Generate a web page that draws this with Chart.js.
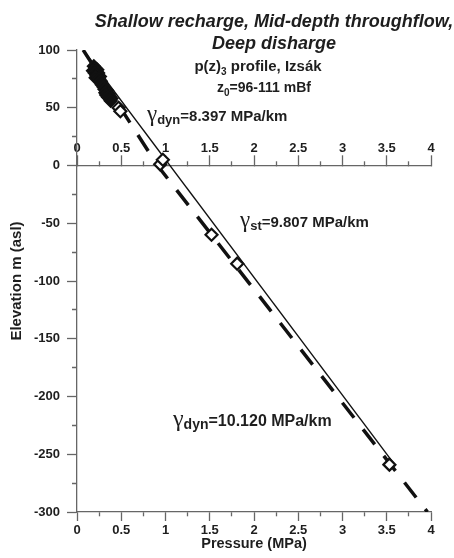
<!DOCTYPE html>
<html>
<head>
<meta charset="utf-8">
<script src="https://cdn.jsdelivr.net/npm/chart.js@4.4.1/dist/chart.umd.min.js"></script>
<style>
  html, body { margin: 0; padding: 0; background: #fff; }
  #wrap { width: 454px; height: 558px; }
</style>
</head>
<body>
<div id="wrap"><canvas id="chart"></canvas></div>
<script>
// hydrostatic line, gamma_st = 9.807 MPa/km
const staticPressure = [0.07, 3.6];
const staticElevation = [100, -260];

// dynamic gradient line, bends at z = 0 (8.397 -> 10.120 MPa/km)
const dynPressure = [0.07, 0.91, 3.96];
const dynElevation = [100, 0, -300];

// dense cluster of shallow measurements (reads as a black blob)
const clusterPressure = [0.19, 0.21, 0.18, 0.23, 0.20, 0.24, 0.22, 0.26, 0.21, 0.25, 0.27,
                         0.28, 0.30, 0.31, 0.34, 0.32, 0.36, 0.33, 0.37, 0.35, 0.39, 0.38];
const clusterElevation = [86, 84, 82, 83, 80, 80, 78, 77, 76, 75, 73,
                          70, 68, 66, 65, 63, 62, 61, 60, 59, 58, 56];

// single deeper measurements
const obsPressure = [0.47, 0.49, 0.94, 0.97, 1.52, 1.81, 3.53];
const obsElevation = [50, 47, 1, 5, -60, -85, -259];

// labelled ticks (minor ticks sit half way between)
const pressureLabels = [0, 0.5, 1, 1.5, 2, 2.5, 3, 3.5, 4];
const elevationLabels = [100, 50, 0, -50, -100, -150, -200, -250, -300];

const titleLines = ['Shallow recharge, Mid-depth throughflow,', 'Deep disharge'];

const SANS = '"Liberation Sans", Arial, sans-serif';
const SERIF = '"Liberation Serif", "Times New Roman", serif';
const AXIS = '#666';
const INK = '#1e1e1e';

const toPoints = (xs, ys) => xs.map((x, i) => ({ x, y: ys[i] }));
const isLabel = (list, v) => list.some(l => Math.abs(l - v) < 1e-9);

// draws a row of text pieces with their own fonts, optional baseline shift
function drawRuns(ctx, runs, x, y, align) {
  let total = 0;
  runs.forEach(r => { ctx.font = r.font; total += ctx.measureText(r.text).width; });
  let cx = align === 'center' ? x - total / 2 : x;
  ctx.textAlign = 'left';
  runs.forEach(r => {
    ctx.font = r.font;
    ctx.fillText(r.text, cx, y + (r.dy || 0));
    cx += ctx.measureText(r.text).width;
  });
}

function gammaRuns(sub, rest, size) {
  return [
    { text: 'γ', font: (size + 8) + 'px ' + SERIF },
    { text: sub, font: 'bold ' + (size - 2) + 'px ' + SANS, dy: 3 },
    { text: rest, font: 'bold ' + size + 'px ' + SANS }
  ];
}

const textPlugin = {
  id: 'profileText',
  afterDraw(chart) {
    const ctx = chart.ctx;
    ctx.save();
    ctx.fillStyle = INK;
    ctx.textBaseline = 'alphabetic';

    ctx.font = 'italic bold 18px ' + SANS;
    ctx.textAlign = 'center';
    ctx.fillText(titleLines[0], 274, 27);
    ctx.fillText(titleLines[1], 274, 49);

    drawRuns(ctx, [
      { text: 'p(z)', font: 'bold 15px ' + SANS },
      { text: '3', font: 'bold 10px ' + SANS, dy: 4 },
      { text: ' profile, Izsák', font: 'bold 15px ' + SANS }
    ], 258, 71, 'center');

    drawRuns(ctx, [
      { text: 'z', font: 'bold 14px ' + SANS },
      { text: '0', font: 'bold 10px ' + SANS, dy: 4 },
      { text: '=96-111 mBf', font: 'bold 14px ' + SANS }
    ], 264, 92, 'center');

    drawRuns(ctx, gammaRuns('dyn', '=8.397 MPa/km', 15), 147, 121, 'left');
    drawRuns(ctx, gammaRuns('st', '=9.807 MPa/km', 15), 240, 227, 'left');
    drawRuns(ctx, gammaRuns('dyn', '=10.120 MPa/km', 16), 173, 426, 'left');
    ctx.restore();
  }
};

const tickFont = { family: SANS, size: 13, weight: 'bold' };

new Chart(document.getElementById('chart'), {
  type: 'scatter',
  data: {
    datasets: [
      {
        data: toPoints(obsPressure, obsElevation),
        pointStyle: 'rectRot',
        pointRadius: 6,
        pointBorderWidth: 2.2,
        pointBorderColor: '#111',
        pointBackgroundColor: '#fff'
      },
      {
        data: toPoints(clusterPressure, clusterElevation),
        pointStyle: 'rectRot',
        pointRadius: 6,
        pointBorderWidth: 2,
        pointBorderColor: '#111',
        pointBackgroundColor: '#111'
      },
      {
        data: toPoints(dynPressure, dynElevation),
        showLine: true,
        borderColor: '#111',
        borderWidth: 3.5,
        borderDash: [19, 14.7],
        pointRadius: 0
      },
      {
        data: toPoints(staticPressure, staticElevation),
        showLine: true,
        borderColor: '#111',
        borderWidth: 1.4,
        pointRadius: 0
      }
    ]
  },
  options: {
    responsive: true,
    maintainAspectRatio: false,
    animation: false,
    layout: { padding: { top: 50, right: 23, bottom: 0, left: 0 } },
    plugins: {
      legend: { display: false },
      title: { display: false },
      tooltip: { enabled: false }
    },
    scales: {
      x: {
        type: 'linear',
        position: 'bottom',
        min: 0,
        max: 4,
        afterFit: s => { s.height = 46; },
        border: { display: true, color: AXIS, width: 1.3 },
        grid: {
          drawOnChartArea: false,
          tickLength: 9,
          tickColor: AXIS,
          tickWidth: 1.3,
          tickBorderDash: c => isLabel(pressureLabels, c.tick.value) ? [] : [4, 30]
        },
        ticks: {
          stepSize: 0.25,
          maxTicksLimit: 100,
          autoSkip: false,
          maxRotation: 0,
          padding: 2,
          color: INK,
          font: tickFont,
          callback: v => isLabel(pressureLabels, v) ? String(v) : ''
        },
        title: {
          display: true,
          text: 'Pressure (MPa)',
          color: INK,
          font: { family: SANS, size: 14.5, weight: 'bold' },
          padding: { top: 0, bottom: 5 }
        }
      },
      x2: {
        type: 'linear',
        axis: 'x',
        position: { y: 0 },
        min: 0,
        max: 4,
        border: { display: true, color: AXIS, width: 1.3 },
        grid: {
          drawOnChartArea: false,
          tickLength: -11,
          tickColor: AXIS,
          tickWidth: 1.3,
          tickBorderDash: c => isLabel(pressureLabels, c.tick.value) ? [] : [5, 30]
        },
        ticks: {
          stepSize: 0.25,
          maxTicksLimit: 100,
          autoSkip: false,
          maxRotation: 0,
          padding: -14,
          color: INK,
          font: tickFont,
          callback: v => isLabel(pressureLabels, v) ? String(v) : ''
        }
      },
      y: {
        type: 'linear',
        position: 'left',
        min: -300,
        max: 100,
        afterFit: s => { s.width = 77; },
        border: { display: true, color: AXIS, width: 1.3 },
        grid: {
          drawOnChartArea: false,
          tickLength: 10,
          tickColor: AXIS,
          tickWidth: 1.3,
          tickBorderDash: c => isLabel(elevationLabels, c.tick.value) ? [] : [0, 5, 6, 30]
        },
        ticks: {
          stepSize: 25,
          maxTicksLimit: 100,
          autoSkip: false,
          padding: 7,
          color: INK,
          font: tickFont,
          callback: v => isLabel(elevationLabels, v) ? String(v) : ''
        },
        title: {
          display: true,
          text: 'Elevation m (asl)',
          color: INK,
          font: { family: SANS, size: 15, weight: 'bold' },
          padding: { top: 8, bottom: 0 }
        }
      }
    }
  },
  plugins: [textPlugin]
});
</script>
</body>
</html>
